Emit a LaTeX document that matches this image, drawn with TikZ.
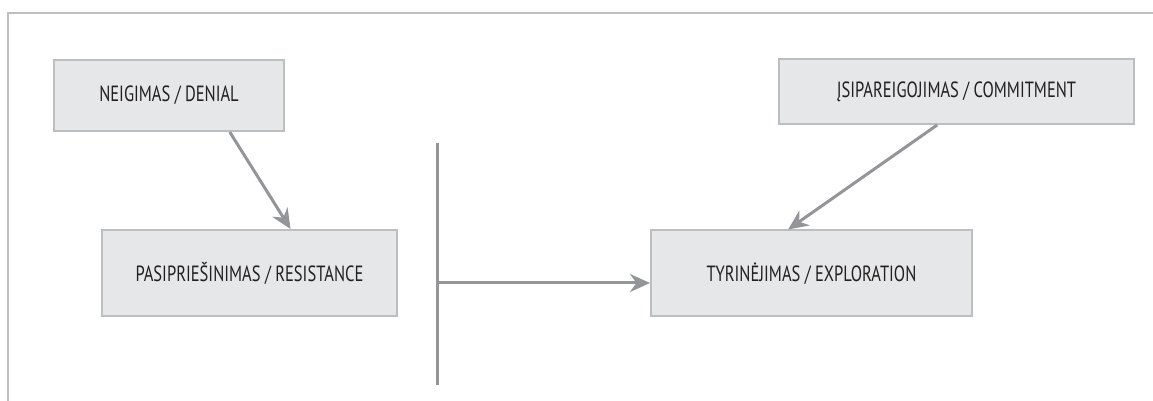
\documentclass[tikz,border=0pt]{standalone}
\usepackage{fontspec}
\setmainfont{PT Sans}[FakeStretch=0.75]
\usepackage{tikz}
\usetikzlibrary{arrows.meta,positioning}
\definecolor{boxfill}{HTML}{E6E7E8}
\definecolor{boxline}{HTML}{BCBEC0}
\definecolor{arrowgray}{HTML}{939598}
\definecolor{textdark}{HTML}{231F20}

\begin{document}
\begin{tikzpicture}[x=0.5pt, y=-0.5pt, >={Stealth[length=10pt,width=9pt]}]
   \useasboundingbox (0,0) rectangle (1153,401);
   % frame
   \draw[boxline, line width=1pt] (8,401) -- (8,13) -- (1153,13);
   \begin{scope}[every node/.style={rectangle,draw=boxline,fill=boxfill,line width=1pt,text=textdark,font=\fontsize{11}{13}\selectfont}]
    \node (denial) [minimum width=115pt, minimum height=35.5pt] at (169,95.5) {NEIGIMAS / DENIAL};
    \node (resist) [minimum width=147.5pt, minimum height=43pt] at (249.5,273) {PASIPRIEŠINIMAS / RESISTANCE};
    \node (explor) [minimum width=160.5pt, minimum height=43pt] at (811.5,273.5) {TYRINĖJIMAS / EXPLORATION};
    \node (commit) [minimum width=177.5pt, minimum height=32.5pt] at (956.5,91.5) {ĮSIPAREIGOJIMAS / COMMITMENT};
   \end{scope}
   \coordinate (bartop) at (437,143);
   \coordinate (barbot) at (437,385);
   \coordinate (split) at (437,283);
   \begin{scope}[arrowgray, line width=1.5pt]
    \draw (bartop) -- (barbot);
    \draw[->] (split) -- (split -| explor.west);
    \draw[->] (denial.-31) -- (resist.47);
    \draw[->] (commit.-120) -- (explor.118);
   \end{scope}
\end{tikzpicture}
\end{document}
